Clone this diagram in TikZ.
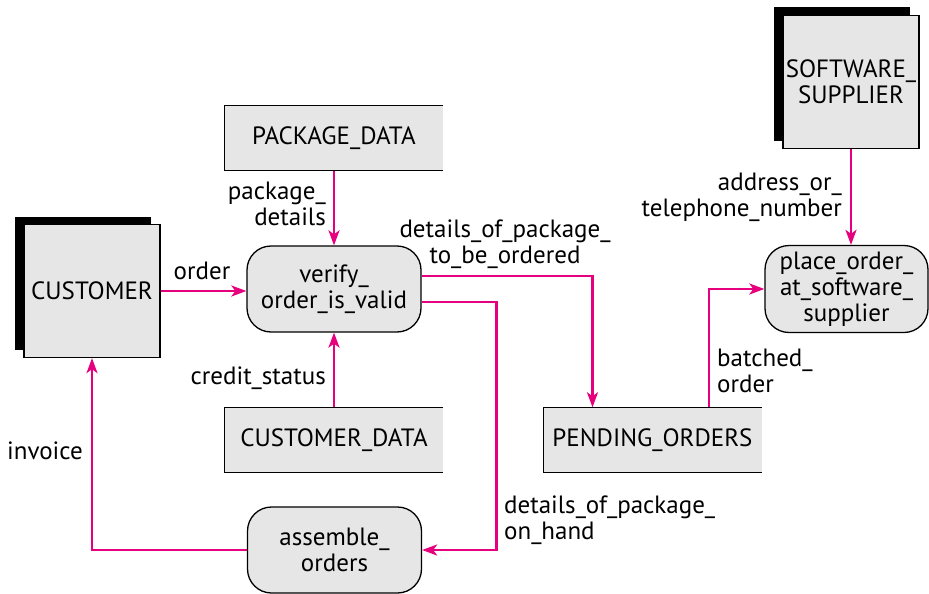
\documentclass[tikz,border=0pt]{standalone}
\usepackage{fontspec}
\setmainfont{PT Sans}
\usetikzlibrary{arrows.meta,shadows}
\definecolor{flowpink}{HTML}{E6007E}
\definecolor{boxgray}{HTML}{E6E6E6}
\begin{document}
\begin{tikzpicture}[x=1pt, y=-1pt, every node/.style={font=\fontsize{25}{26}\selectfont},
  entity/.style={draw,line width=1.3pt,fill=boxgray,minimum width=136pt,minimum height=133pt,inner sep=0pt,align=center,
    general shadow={fill=black,shadow xshift=-9pt,shadow yshift=8pt}},
  store/.style={fill=boxgray,minimum width=218pt,minimum height=65pt,inner sep=0pt},
  proc/.style={draw,line width=1.3pt,fill=boxgray,rounded corners=24pt,minimum width=174pt,minimum height=86pt,inner sep=0pt,align=center},
  flow/.style={flowpink,line width=2.4pt,-{Stealth[length=15pt,width=11pt,inset=4pt]}},
  lbl/.style={inner sep=1pt}]
\useasboundingbox (0,0) rectangle (929,594);
% external entities
\node[entity] (cust) at (92,291) {CUSTOMER};
\node[entity] (soft) at (851,82) {SOFTWARE\_\\SUPPLIER};
% data stores (open on the right)
\node[store] (pkg) at (334,138) {PACKAGE\_DATA};
\node[store] (custdata) at (334,440) {CUSTOMER\_DATA};
\node[store] (pend) at (652.5,440) {PENDING\_ORDERS};
\foreach \s in {pkg,custdata,pend}
  \draw[line width=1.3pt] (\s.north east) -- (\s.north west) -- (\s.south west) -- (\s.south east);
% processes
\node[proc] (verify) at (334,289) {verify\_\\order\_is\_valid};
\node[proc] (assem) at (334.5,550) {assemble\_\\orders};
\node[proc,minimum width=163pt,minimum height=87pt] (place) at (846.5,289) {place\_order\_\\at\_software\_\\supplier};
% data flows
\draw[flow] (cust.east) -- (cust.east -| verify.west);
\node[lbl] (lorder) at (202,271) {order};
\draw[flow] (pkg.south) -- (verify.north);
\node[lbl,anchor=east,align=right] (lpkg) at (327,204) {package\_\\details};
\draw[flow] (custdata.north) -- (verify.south);
\node[lbl,anchor=east] (lcredit) at (327,378) {credit\_status};
\draw[flow] ([yshift=13pt]verify.east) -| ([xshift=-60pt]pend.north);
\node[lbl,align=center] (ltbo) at (505,244) {details\_of\_package\_\\to\_be\_ordered};
\draw[flow] ([yshift=-13pt]verify.east) -- ++(75,0) |- (assem.east);
\node[lbl,anchor=west,align=left] (lhand) at (503,520) {details\_of\_package\_\\on\_hand};
\draw[flow] ([xshift=56.5pt]pend.north) |- (place.west);
\node[lbl,anchor=west,align=left] (lbatch) at (716,371) {batched\_\\order};
\draw[flow] (soft.south) -- (soft.south |- place.north);
\node[lbl,anchor=east,align=right] (laddr) at (843,197) {address\_or\_\\telephone\_number};
\draw[flow] (assem.west) -| (cust.south);
\node[lbl] (linv) at (45,451) {invoice};
\end{tikzpicture}
\end{document}
